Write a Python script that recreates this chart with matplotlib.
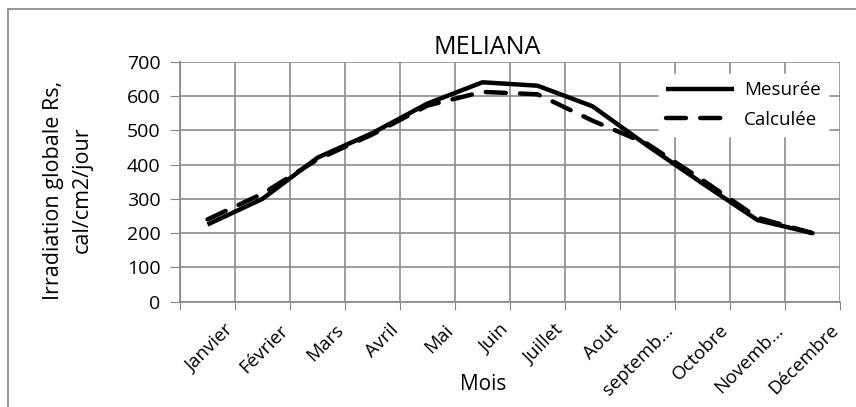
import matplotlib
matplotlib.use("Agg")
import matplotlib.pyplot as plt
from matplotlib.lines import Line2D

plt.rcParams['font.family'] = ['Open Sans', 'DejaVu Sans']

mois = ["Janvier", "Février", "Mars", "Avril", "Mai", "Juin", "Juillet",
        "Aout", "septemb...", "Octobre", "Novemb...", "Décembre"]
mesuree = [225, 300, 420, 492, 578, 640, 630, 570, 455, 345, 238, 200]
calculee = [240, 315, 415, 488, 572, 612, 605, 528, 460, 355, 245, 200]

W, H = 856, 407
fig = plt.figure(figsize=(W / 100, H / 100), dpi=100)
ax = fig.add_axes([180 / W, 1 - 301.7 / H, 660 / W, 240 / H])

x = range(len(mois))
ax.plot(x, mesuree, color='black', lw=3.2, solid_capstyle='butt', label='Mesurée')
ax.plot(x, calculee, color='black', lw=3.2, dashes=(4.5, 3.2),
        dash_capstyle='round', label='Calculée')

ax.set_xlim(-0.5, len(mois) - 0.5)
ax.set_ylim(0, 700)
ax.set_yticks(range(0, 701, 100))
ax.set_xticks([i - 0.5 for i in range(len(mois) + 1)], minor=False)
ax.set_xticklabels([])
# labels sit a bit right of the category centre, like excel does
ax.set_xticks([i + 0.3 for i in x], minor=True)
ax.set_xticklabels(mois, minor=True, rotation=45, ha='right',
                   rotation_mode='anchor', fontsize=13.5)
ax.tick_params(axis='x', which='minor', length=0, pad=14)
ax.tick_params(axis='x', which='major', length=6, color='#868686', direction='out')
ax.tick_params(axis='y', length=7, color='#868686', labelsize=14, pad=7)

ax.grid(True, which='major', color='#8c8c8c', lw=1.2)
ax.set_axisbelow(True)
for s in ['top', 'right']:
    ax.spines[s].set_visible(False)
for s in ['left', 'bottom']:
    ax.spines[s].set_color('#868686')
    ax.spines[s].set_linewidth(1.2)

fig.text(487 / W, 1 - 47 / H, 'MELIANA', ha='center', va='center', fontsize=18)
fig.text(483 / W, 1 - 385 / H, 'Mois', ha='center', va='center', fontsize=15)
fig.text(68 / W, 1 - 190 / H, 'Irradiation globale Rs,\ncal/cm2/jour',
         ha='center', va='center', rotation=90, multialignment='center',
         fontsize=15.5, linespacing=1.5)

leg = ax.legend(loc='upper left', bbox_to_anchor=((655 - 180) / 660, 0.965),
                frameon=True, fontsize=13.5, handlelength=3.6, handletextpad=0.55,
                borderaxespad=0.2, fancybox=False, edgecolor='white',
                framealpha=1, labelspacing=0.6)

# outer chart border (top and left visible)
fig.add_artist(Line2D([8 / W, 8 / W], [0, 1 - 9 / H], color='#868686', lw=1.2))
fig.add_artist(Line2D([8 / W, 1], [1 - 9 / H, 1 - 9 / H], color='#868686', lw=1.2))

fig.savefig('out.png', dpi=100)
